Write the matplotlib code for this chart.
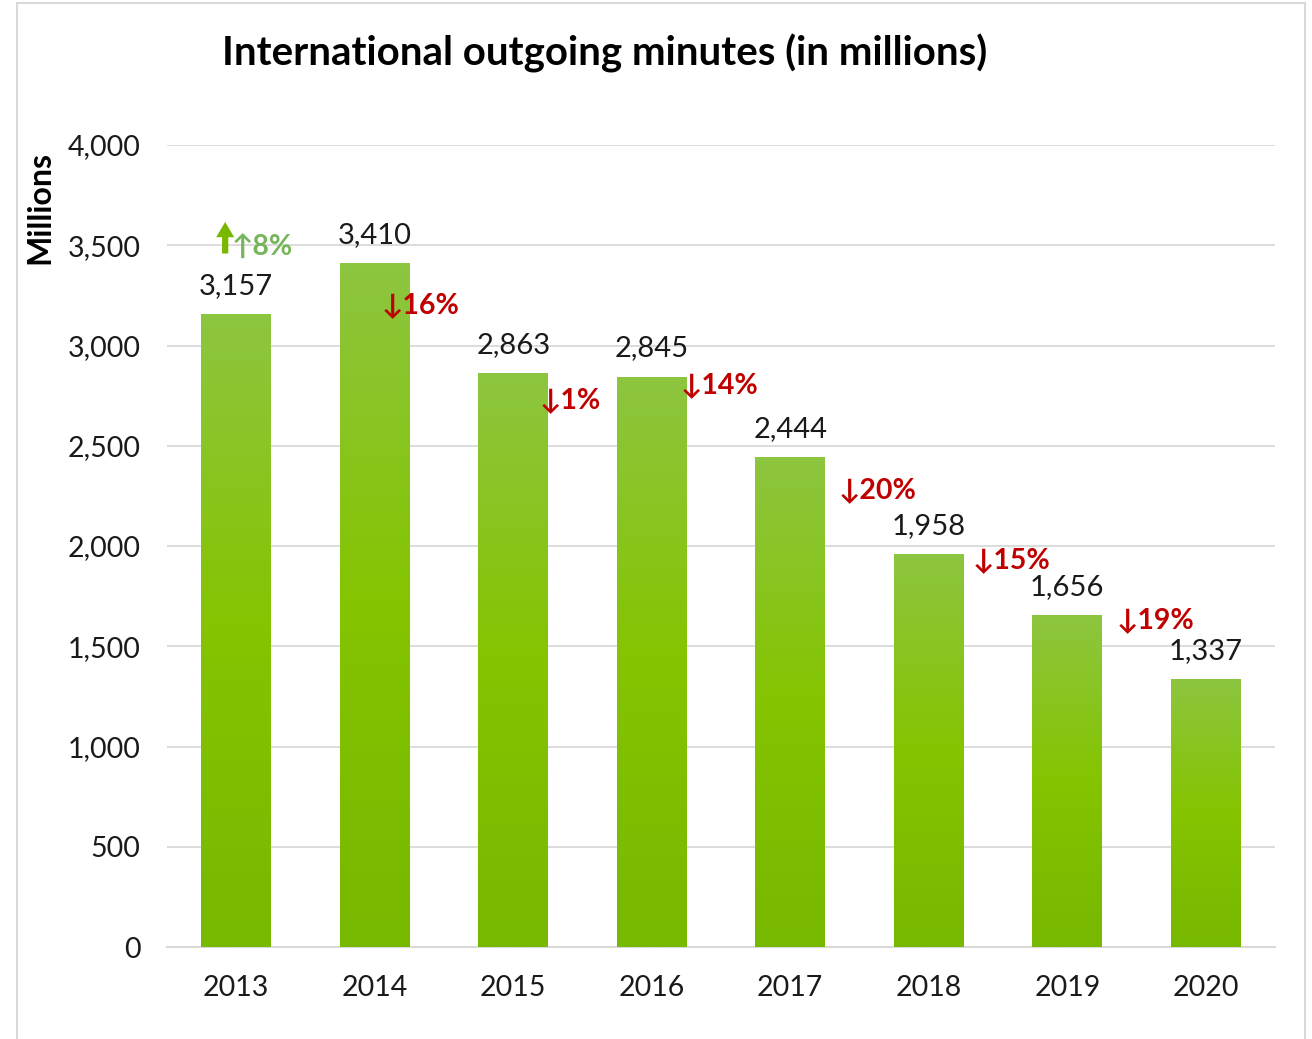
import numpy as np
import matplotlib.pyplot as plt
from matplotlib.colors import LinearSegmentedColormap
from matplotlib.patches import Rectangle

plt.rcParams['font.family'] = ['Lato', 'DejaVu Sans']

# data
years = ['2013', '2014', '2015', '2016', '2017', '2018', '2019', '2020']
minutes = [3157, 3410, 2863, 2845, 2444, 1958, 1656, 1337]
changes = ['\u21918%', '\u219316%', '\u21931%', '\u219314%', '\u219320%', '\u219315%', '\u219319%']
yticks = [0, 500, 1000, 1500, 2000, 2500, 3000, 3500, 4000]

# label placement (x in bar units, y in millions)
change_x = [0.19, 1.33, 2.41, 3.49, 4.63, 5.60, 6.64]
change_y = [3486, 3202, 2728, 2803, 2279, 1930, 1631]

fig = plt.figure(figsize=(13.12, 10.39), dpi=100)
ax = fig.add_axes([167 / 1312, 1 - 947 / 1039, 1108 / 1312, 802 / 1039])

# outer frame
fig.patches.append(Rectangle((17 / 1312, -0.01), (1305 - 17) / 1312, 1 - 3 / 1039 + 0.01,
                             transform=fig.transFigure, fill=False,
                             edgecolor='#D9D9D9', linewidth=1.5))

x = np.arange(len(years))
bars = ax.bar(x, minutes, width=0.505, color='none', zorder=3)

cmap = LinearSegmentedColormap.from_list('g', ['#77B800', '#84C400', '#8DC640'])
grad = np.linspace(0, 1, 256).reshape(-1, 1)
for b in bars:
    bx, by = b.get_x(), b.get_y()
    w, h = b.get_width(), b.get_height()
    im = ax.imshow(grad, cmap=cmap, aspect='auto', origin='lower',
                   extent=[bx, bx + w, by, by + h], zorder=3)
    im.set_clip_path(b)

for xi, v in zip(x, minutes):
    ax.annotate(f'{v:,}', (xi, v), xytext=(0, 11), textcoords='offset points',
                ha='center', va='bottom', fontsize=21, color='#1A1A1A')

ax.set_xlim(-0.5, len(years) - 0.5)
ax.set_ylim(0, 4000)
ax.set_yticks(yticks)
ax.set_yticklabels([f'{t:,}' for t in yticks], fontsize=20.5)
ax.set_xticks(x)
ax.set_xticklabels(years, fontsize=20.5)
ax.tick_params(length=0, colors='#1A1A1A')
ax.tick_params(axis='x', pad=20)
ax.tick_params(axis='y', pad=19)
ax.grid(axis='y', color='#D9D9D9', linewidth=1.3, zorder=0)
ax.set_axisbelow(True)
for s in ['top', 'right', 'left']:
    ax.spines[s].set_visible(False)
ax.spines['bottom'].set_color('#D9D9D9')
ax.spines['bottom'].set_linewidth(1.5)

# change labels
for i, (lab, cx, cy) in enumerate(zip(changes, change_x, change_y)):
    col = '#77B55A' if i == 0 else '#C00000'
    ax.text(cx, cy, lab, ha='center', va='center', fontsize=20.5,
            fontweight='bold', color=col, zorder=5)

# green up arrow next to first change
ax.annotate('', xy=(-0.08, 3630), xytext=(-0.08, 3445),
            arrowprops=dict(arrowstyle='simple,head_width=1.3,head_length=1.1,tail_width=0.45',
                            color='#7AB800', lw=0), zorder=5)

fig.text(605 / 1312, 1 - 53 / 1039, 'International outgoing minutes (in millions)',
         ha='center', va='center', fontsize=29, fontweight='bold', color='black')
fig.text(40 / 1312, 1 - 208 / 1039, 'Millions', rotation=90, ha='center', va='center',
         fontsize=23, fontweight='bold', color='black')

fig.savefig('out.png', dpi=100)
